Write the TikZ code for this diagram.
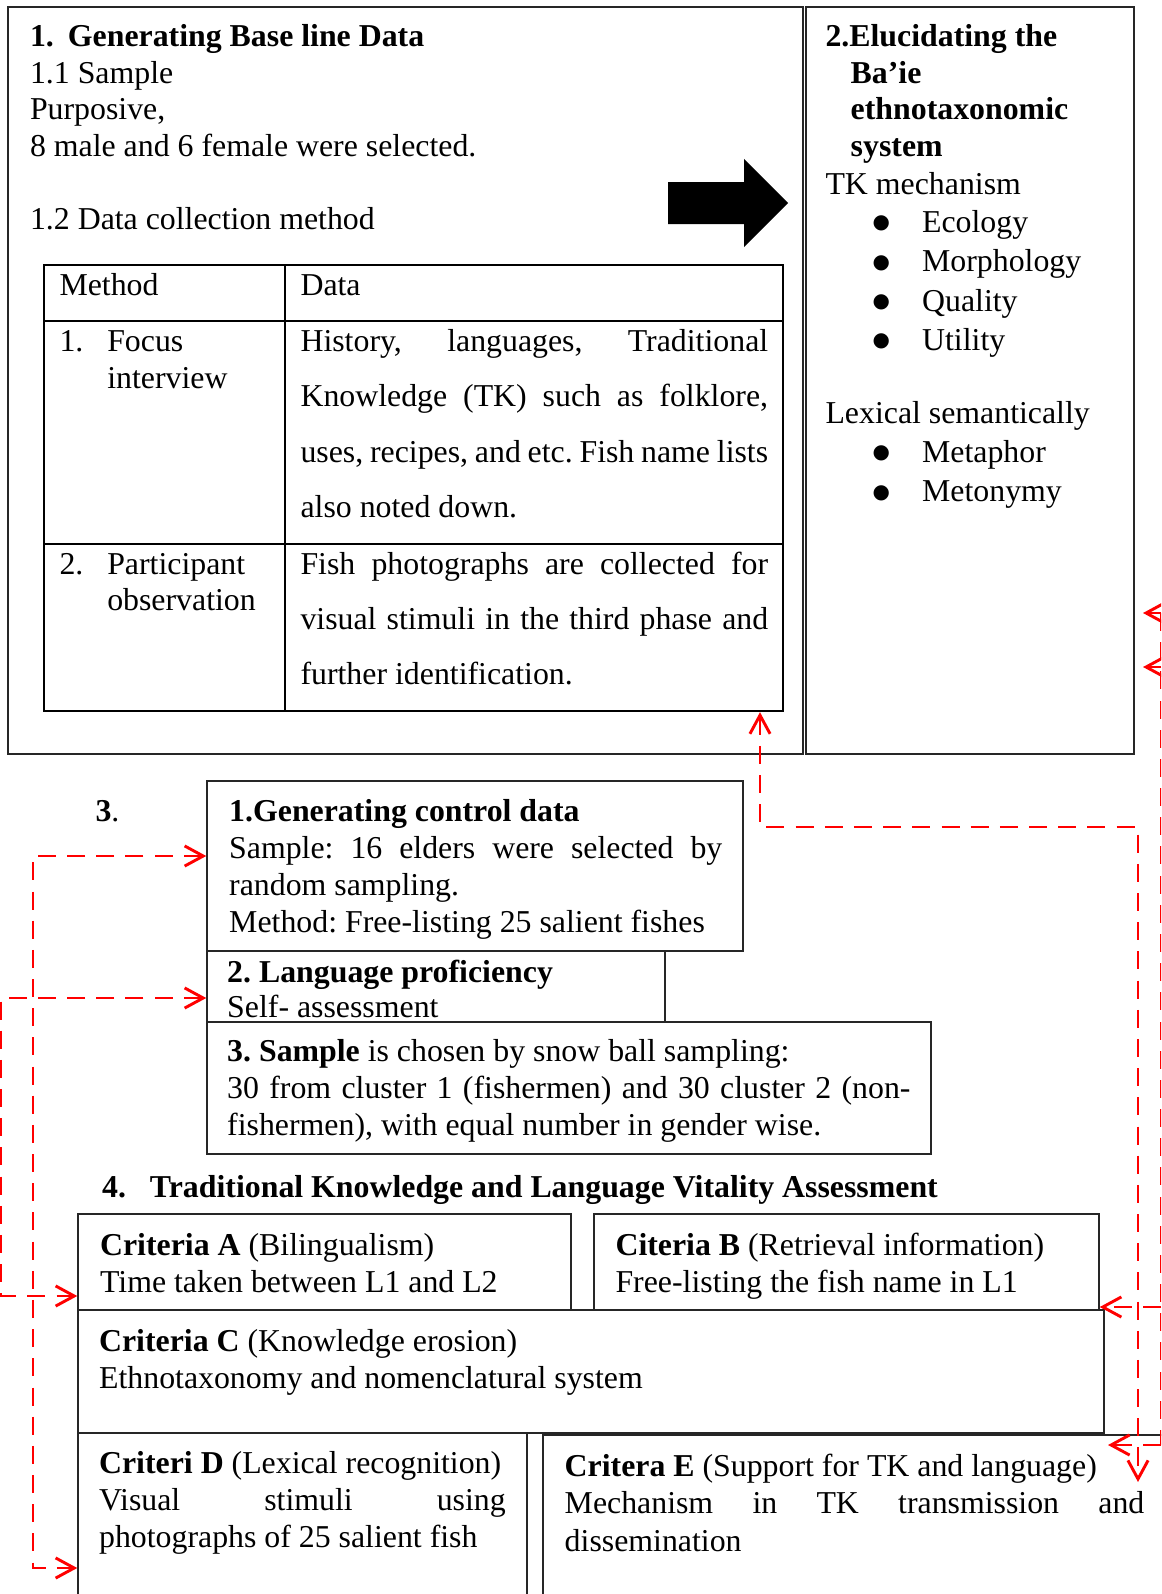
\documentclass[tikz,border=0pt]{standalone}
\usepackage{fontspec}
\setmainfont{Liberation Serif}
\newfontfamily\dotfont{DejaVu Sans}
\frenchspacing
\usetikzlibrary{arrows.meta,fit}

\begin{document}
\begin{tikzpicture}[x=0.377pt,y=-0.377pt,
    box/.style={draw=black!85,line width=0.55pt,inner sep=0pt},
    txt/.style={inner sep=0pt,anchor=base west,align=flush left,text width=400pt,
        yshift=-0.6pt,font=\fontsize{12}{14}\selectfont},
    link/.style={draw=lnk,line width=1.1pt,dash pattern=on 6.8pt off 4.2pt,
        >={Straight Barb[length=7pt,width=7.6pt]}}]

    \definecolor{lnk}{RGB}{255,0,0}

    \newcommand{\jline}[2]{\makebox[#1][s]{#2}}
    \newcommand{\bul}{\makebox[18.7pt][l]{\raisebox{1.4pt}{\dotfont\fontsize{7.5}{7.5}\selectfont ●}}}

    \useasboundingbox (0,0) rectangle (1161,1594);
    \clip (0,0) rectangle (1161,1594);

    % phase 1 and 2
    \node[box,fit={(8,7) (803,754)}] (base) {};
    \node[box,fit={(806,7) (1134,754)}] (eluc) {};

    \node[txt,font=\fontsize{12}{13.8}\selectfont] (baset) at (29.5,45) {\textbf{1.\hspace{5.3pt}Generating Base line Data}\\
        1.1 Sample\\Purposive,\\8 male and 6 female were selected.\\[13.8pt]
        1.2 Data collection method};

    \fill (668,182) -- (744,182) -- (744,159) -- (788,203) -- (744,247) -- (744,224) -- (668,224) -- cycle;

    \node[box,draw=black,line width=0.9pt,fit={(44,265) (783,711)}] (tab) {};
    \draw[line width=0.9pt] (285,265) -- (285,711);
    \foreach \y in {321,544}
    \draw[line width=0.9pt] (44,\y) -- (783,\y);

    \node[txt] (hmeth) at (59,294) {Method};
    \node[txt] (hdata) at (300,294) {Data};
    \node[txt,font=\fontsize{12}{13.8}\selectfont] (meth1) at (59,350) {\makebox[18pt][l]{1.}Focus\\\hspace*{18pt}interview};
    \node[txt,font=\fontsize{12}{20.85}\selectfont] (data1) at (300,350) {\jline{176.3pt}{History, languages, Traditional}\\
        \jline{176.3pt}{Knowledge (TK) such as folklore,}\\
        \jline{176.3pt}{uses, recipes, and etc. Fish name lists}\\
        also noted down.};
    \node[txt,font=\fontsize{12}{13.8}\selectfont] (meth2) at (59,572.7) {\makebox[18pt][l]{2.}Participant\\\hspace*{18pt}observation};
    \node[txt,font=\fontsize{12}{20.85}\selectfont] (data2) at (300,572.7) {\jline{176.3pt}{Fish photographs are collected for}\\
        \jline{176.3pt}{visual stimuli in the third phase and}\\
        further identification.};

    \node[txt,font=\fontsize{12}{13.8}\selectfont] (elt) at (825,45) {\textbf{2.Elucidating the}\\
        \hspace*{9.5pt}\textbf{Ba’ie}\\\hspace*{9.5pt}\textbf{ethnotaxonomic}\\\hspace*{9.5pt}\textbf{system}};
    \node[txt] (tkm) at (825,192.5) {TK mechanism};
    \node[txt,font=\fontsize{12}{14.8}\selectfont] (tkl) at (872,231) {\bul Ecology\\
        \bul Morphology\\\bul Quality\\\bul Utility};
    \node[txt] (lex) at (825,422) {Lexical semantically};
    \node[txt,font=\fontsize{12}{14.8}\selectfont] (lexl) at (872,461) {\bul Metaphor\\
        \bul Metonymy};

    % phase 3
    \node[txt] (ph3) at (95,820) {\textbf{3}.};
    \node[box,fit={(207,781) (743,951)}] (ctrl) {};
    \node[box,fit={(207,951) (665,1022)}] (prof) {};
    \node[box,fit={(207,1022) (931,1154)}] (samp) {};

    \node[txt,font=\fontsize{12}{13.9}\selectfont] (ctrlt) at (228.7,820) {\textbf{1.Generating control data}\\
        \jline{185.9pt}{Sample: 16 elders were selected by}\\random sampling.\\
        Method: Free-listing 25 salient fishes};
    \node[txt,font=\fontsize{12}{13.4}\selectfont] (proft) at (226.7,980.4) {\textbf{2. Language proficiency}\\Self- assessment};
    \node[txt] (sampt) at (226.7,1059.6) {\textbf{3. Sample} is chosen by snow ball sampling:\\
        \jline{257.6pt}{30 from cluster 1 (fishermen) and 30 cluster 2 (non-}\\
        fishermen), with equal number in gender wise.};

    % phase 4
    \node[txt] (ph4) at (101.7,1196) {\makebox[18pt][l]{\textbf{4.}}\textbf{Traditional Knowledge and Language Vitality Assessment}};

    \node[box,fit={(78,1214) (571,1310)}] (critA) {};
    \node[box,fit={(594,1214) (1099,1310)}] (critB) {};
    \node[box,fit={(78,1310) (1104,1433)}] (critC) {};
    \node[box,fit={(78,1433) (527,1620)}] (critD) {};
    \node[box,fit={(543,1435) (1180,1620)}] (critE) {};

    \node[txt,font=\fontsize{12}{14.2}\selectfont] (critAt) at (99.6,1253.5) {\textbf{Criteria A} (Bilingualism)\\Time taken between L1 and L2};
    \node[txt,font=\fontsize{12}{14.2}\selectfont] (critBt) at (615,1253.5) {\textbf{Citeria B} (Retrieval information)\\Free-listing the fish name in L1};
    \node[txt,font=\fontsize{12}{14.2}\selectfont] (critCt) at (98.6,1349.4) {\textbf{Criteria C} (Knowledge erosion)\\Ethnotaxonomy and nomenclatural system};
    \node[txt] (critDt) at (98.6,1471.4) {\textbf{Criteri D} (Lexical recognition)\\
        \jline{153.3pt}{Visual stimuli using}\\photographs of 25 salient fish};
    \node[txt,font=\fontsize{12}{14.2}\selectfont] (critEt) at (564.2,1474.4) {\textbf{Critera E} (Support for TK and language)\\
        \jline{218.5pt}{Mechanism in TK transmission and}\\dissemination};

    % red links
    \coordinate (l1t) at (33,856);
    \coordinate (l1b) at (33,1568);
    \draw[link,<->] (l1t -| ctrl.west) -- (l1t) -- (l1b) -- (l1b -| critD.west);

    \coordinate (l2t) at (1,998);
    \coordinate (l2b) at (1,1296);
    \draw[link,<->] (l2t -| prof.west) -- (l2t) -- (l2b) -- (l2b -| critA.west);

    \coordinate (r1a) at (760,827);
    \coordinate (r1b) at (1138,827);
    \coordinate (r1c) at (1138,1482);
    \draw[link,<->] (r1a |- tab.south) -- (r1a) -- (r1b) -- (r1c);

    \coordinate (e1) at (1161,613);
    \coordinate (e2) at (1161,667);
    \coordinate (e3) at (1161,1307);
    \coordinate (e4) at (1161,1445);
    \coordinate (e1t) at (1143,613);
    \coordinate (e2t) at (1143,667);
    \coordinate (e4t) at (1108,1445);
    \draw[link] (e1) -- (e4);
    \draw[link,->] (e1) -- (e1t);
    \draw[link,->] (e2) -- (e2t);
    \draw[link,->] (e3) -- (e3 -| critB.east);
    \draw[link,->] (e4) -- (e4t);

\end{tikzpicture}
\end{document}
